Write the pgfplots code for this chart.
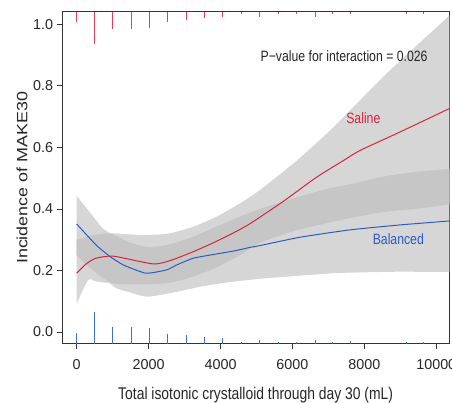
\documentclass[border=0pt]{standalone}
\usepackage{fontspec}
\setmainfont{Liberation Sans}
\newfontfamily\narrowfont{Liberation Sans}[FakeStretch=0.82]
\usepackage{graphicx}
\usepackage{pgfplots}
\pgfplotsset{compat=1.18}
\usepgfplotslibrary{fillbetween}
\definecolor{salred}{HTML}{D8243C}
\definecolor{balblue}{HTML}{2B5BC6}
\definecolor{rugred}{HTML}{DC4060}
\definecolor{rugblue}{HTML}{3F72CC}
\definecolor{bandgray}{HTML}{D6D6D6}
\definecolor{overgray}{HTML}{C6C6C6}
\begin{document}
\begin{tikzpicture}
\begin{axis}[
  scale only axis, width=387.3bp, height=332bp,
  xmin=-409, xmax=10362, ymin=-0.038, ymax=1.041,
  xtick={0,2000,4000,6000,8000,10000},
  ytick={0,0.2,0.4,0.6,0.8,1.0},
  tick align=outside, tick pos=left, major tick length=5.5bp,
  axis line style={draw=black!80, line width=0.8pt},
  tick style={draw=black!80, line width=0.8pt},
  scaled x ticks=false,
  xticklabel style={/pgf/number format/set thousands separator={}, yshift=-7bp},
  yticklabel style={/pgf/number format/.cd, fixed, fixed zerofill, precision=1},
  /pgf/number format/assume math mode=true,
  tick label style={font=\fontsize{14.4}{16}\selectfont, text=black!85},
  xlabel={Total isotonic crystalloid through day 30 (mL)},
  xlabel style={font=\narrowfont\fontsize{17}{20}\selectfont, text=black!85, at={(axis description cs:0.5,-0.167)}, anchor=base},
  ylabel={\scalebox{1.2}[1]{Incidence of MAKE30}},
  ylabel style={font=\fontsize{15}{18}\selectfont, text=black!85, at={(axis description cs:-0.103,0.5)}, anchor=center},
]
% Saline band
\addplot[name path=su, draw=none, smooth, tension=0.4] coordinates {
 (0,0.30) (300,0.31) (550,0.318) (1000,0.321) (1500,0.317) (2000,0.315) (2600,0.321) (3240,0.342) (3890,0.375) (4540,0.418) (5100,0.462) (6100,0.555) (7000,0.65) (7600,0.72) (8530,0.83) (9400,0.925) (10380,1.03)};
\addplot[name path=sl, draw=none, smooth, tension=0.4] coordinates {
 (0,0.093) (320,0.169) (550,0.164) (1000,0.158) (1500,0.155) (2000,0.155) (2600,0.16) (3240,0.18) (3890,0.21) (4540,0.25) (5100,0.29) (6100,0.33) (7000,0.355) (7600,0.37) (8530,0.39) (9400,0.40) (10380,0.415)};
\addplot[fill=bandgray, draw=none] fill between[of=su and sl];
% Balanced band
\addplot[name path=bu, draw=none, smooth, tension=0.4] coordinates {
 (0,0.442) (460,0.375) (740,0.335) (1112,0.31) (1500,0.29) (1947,0.275) (2595,0.285) (3429,0.32) (4300,0.365) (5284,0.41) (6200,0.44) (7136,0.47) (8000,0.495) (8991,0.515) (10380,0.53)};
\addplot[name path=bl, draw=none, smooth, tension=0.4] coordinates {
 (0,0.25) (460,0.2) (740,0.175) (1112,0.142) (1500,0.128) (1947,0.115) (2595,0.126) (3429,0.147) (4300,0.163) (5284,0.175) (6200,0.183) (7136,0.191) (8000,0.194) (8991,0.196) (10380,0.195)};
\addplot[fill=bandgray, draw=none] fill between[of=bu and bl];
% Overlap of the two bands
\addplot[name path=ou, draw=none, smooth, tension=0.4] coordinates {
 (0,0.30) (300,0.31) (460,0.315) (740,0.32) (1000,0.318) (1500,0.29) (2000,0.276) (2600,0.285) (3240,0.31) (3890,0.343) (4540,0.375) (5100,0.40) (6100,0.437) (7000,0.466) (7600,0.48) (8530,0.505) (9400,0.52) (10380,0.53)};
\addplot[name path=ol, draw=none, smooth, tension=0.4] coordinates {
 (0,0.25) (300,0.215) (460,0.2) (740,0.175) (1000,0.158) (1500,0.155) (2000,0.155) (2600,0.16) (3240,0.18) (3890,0.21) (4540,0.25) (5100,0.29) (6100,0.33) (7000,0.355) (7600,0.37) (8530,0.39) (9400,0.40) (10380,0.415)};
\addplot[fill=overgray, draw=none] fill between[of=ou and ol];
% Saline curve
\addplot[salred, line width=1pt, smooth, tension=0.4] coordinates {
 (0,0.191) (270,0.222) (540,0.240) (970,0.247) (1400,0.238) (1760,0.229) (2180,0.221) (2600,0.232) (3240,0.261) (3800,0.290) (4355,0.322) (4820,0.352) (5750,0.425) (6670,0.503) (7415,0.557) (7880,0.590) (8990,0.650) (10380,0.727)};
% Balanced curve
\addplot[balblue, line width=1pt, smooth, tension=0.3] coordinates {
 (0,0.351) (537,0.283) (929,0.245) (1296,0.218) (1927,0.191) (2503,0.202) (2781,0.218) (3243,0.240) (3707,0.250) (4355,0.263) (4820,0.275) (5098,0.281) (6210,0.308) (7600,0.332) (8991,0.348) (10380,0.361)};
% Rugs
\addplot[rugred, line width=1pt, quiver={u=0, v=\thisrow{v}}] table {
x y v
0 1.041 -0.035
489 1.041 -0.106
1001 1.041 -0.056
1530 1.041 -0.056
2019 1.041 -0.054
2531 1.041 -0.0325
3040 1.041 -0.027
3549 1.041 -0.021
4060 1.041 -0.017
4569 1.041 -0.0085
5070 1.041 -0.018
5606 1.041 -0.0085
6118 1.041 -0.0085
6627 1.041 -0.016
7120 1.041 -0.008
7628 1.041 -0.008
9158 1.041 -0.0065
9658 1.041 -0.008
};
\addplot[rugblue, line width=1pt, quiver={u=0, v=\thisrow{v}}] table {
x y v
0 -0.038 0.0335
489 -0.038 0.104
1001 -0.038 0.053
1530 -0.038 0.055
2019 -0.038 0.05
2531 -0.038 0.0315
3040 -0.038 0.028
3549 -0.038 0.0205
4060 -0.038 0.017
4569 -0.038 0.0065
5070 -0.038 0.013
5606 -0.038 0.004
6118 -0.038 0.0055
6627 -0.038 0.011
7120 -0.038 0.004
7628 -0.038 0.008
9158 -0.038 0.004
9658 -0.038 0.0065
};
\node[anchor=base, font=\narrowfont\fontsize{15}{18}\selectfont, text=black!85] at (axis cs:7435,0.878) {P−value for interaction = 0.026};
\node[anchor=base, font=\narrowfont\fontsize{15}{18}\selectfont, text=salred] at (axis cs:7971,0.678) {Saline};
\node[anchor=base, font=\narrowfont\fontsize{15}{18}\selectfont, text=balblue] at (axis cs:8944,0.285) {Balanced};
\end{axis}
\pgfresetboundingbox
\path[use as bounding box] ([xshift=-62bp,yshift=-59.3bp]current axis.south west) rectangle ([xshift=2.7bp,yshift=11.7bp]current axis.north east);
\end{tikzpicture}
\end{document}
